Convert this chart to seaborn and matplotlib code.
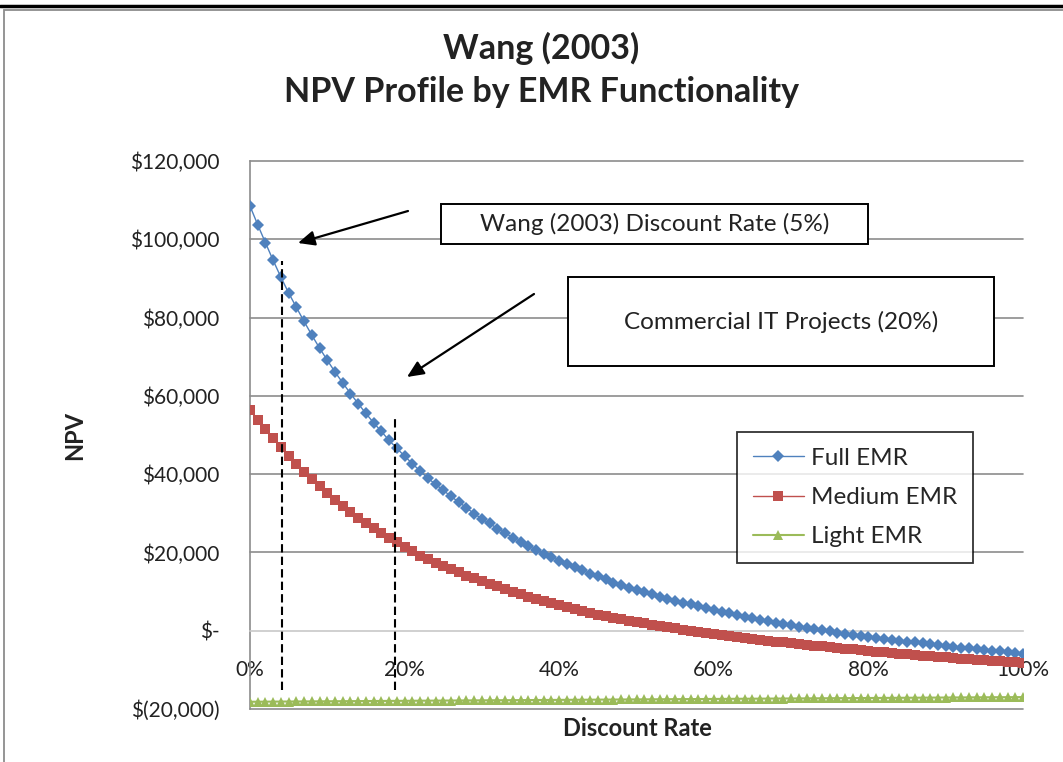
import matplotlib
matplotlib.use("Agg")
import matplotlib.pyplot as plt
import seaborn as sns
import pandas as pd
from matplotlib.patches import Rectangle, FancyArrowPatch
from matplotlib.lines import Line2D

# Discount rate categories (percent)
rates = list(range(0, 101))

full_emr = [108500, 103700, 99100, 94600, 90300, 86300, 82600, 79000, 75500, 72200,
            69100, 66100, 63300, 60600, 58000, 55500, 53100, 50900, 48600, 46600,
            44600, 42700, 40800, 39000, 37400, 35900, 34300, 32900, 31400, 29900,
            28600, 27400, 26100, 25000, 23800, 22700, 21600, 20700, 19700, 18800,
            17900, 17000, 16200, 15400, 14600, 13900, 13100, 12300, 11700, 11000,
            10400, 9830, 9270, 8730, 8200, 7690, 7200, 6720, 6250, 5800,
            5340, 4880, 4450, 4030, 3620, 3220, 2830, 2450, 2080, 1730,
            1390, 1060, 740, 430, 120, -180, -470, -750, -1030, -1300,
            -1560, -1820, -2070, -2310, -2550, -2780, -3010, -3230, -3450, -3670,
            -3880, -4090, -4290, -4490, -4690, -4890, -5080, -5270, -5460, -5650,
            -5830]

medium_emr = [56500, 53900, 51600, 49200, 46900, 44700, 42700, 40600, 38800, 36900,
              35200, 33500, 31900, 30400, 28900, 27500, 26200, 25000, 23800, 22600,
              21400, 20300, 19200, 18200, 17400, 16500, 15700, 14900, 14100, 13400,
              12700, 12000, 11300, 10600, 10000, 9400, 8700, 8100, 7500, 7000,
              6500, 6000, 5500, 5050, 4580, 4130, 3700, 3300, 2930, 2570,
              2220, 1890, 1560, 1240, 920, 610, 300, 0, -300, -600,
              -890, -1170, -1450, -1680, -1905, -2130, -2350, -2570, -2790, -3000,
              -3210, -3420, -3620, -3820, -4020, -4210, -4400, -4590, -4780, -4960,
              -5140, -5320, -5500, -5670, -5840, -6010, -6180, -6340, -6500, -6650,
              -6800, -6950, -7100, -7250, -7400, -7540, -7680, -7820, -7960, -8100,
              -8240]

light_emr = [-18150, -18137, -18124, -18112, -18100, -18088, -18076, -18064, -18052, -18040,
             -18028, -18016, -18004, -17992, -17980, -17968, -17956, -17944, -17932, -17920,
             -17908, -17896, -17884, -17872, -17860, -17848, -17836, -17824, -17812, -17800,
             -17788, -17776, -17764, -17752, -17740, -17728, -17716, -17704, -17692, -17680,
             -17668, -17656, -17644, -17632, -17620, -17608, -17596, -17584, -17572, -17560,
             -17548, -17536, -17524, -17512, -17500, -17488, -17476, -17464, -17452, -17440,
             -17428, -17416, -17404, -17392, -17380, -17368, -17356, -17344, -17332, -17320,
             -17308, -17296, -17284, -17272, -17260, -17248, -17236, -17224, -17212, -17200,
             -17188, -17176, -17164, -17152, -17140, -17128, -17116, -17104, -17092, -17080,
             -17068, -17056, -17044, -17032, -17020, -17010, -17000, -16990, -16980, -16970,
             -16960]

x_ticks = [0, 20, 40, 60, 80, 100]
x_labels = ["0%", "20%", "40%", "60%", "80%", "100%"]
y_ticks = [-20000, 0, 20000, 40000, 60000, 80000, 100000, 120000]
y_labels = ["$(20,000)", "$-", "$20,000", "$40,000", "$60,000", "$80,000", "$100,000", "$120,000"]

df = pd.DataFrame({"rate": rates, "Full EMR": full_emr,
                   "Medium EMR": medium_emr, "Light EMR": light_emr})

sns.set_style("white")
plt.rcParams["font.family"] = ["Lato", "DejaVu Sans"]

W, H = 1063, 762
fig = plt.figure(figsize=(W / 100, H / 100), dpi=100)


def fx(px):
    return px / W


def fy(py):
    return 1 - py / H


ax = fig.add_axes([fx(250), fy(709), fx(1023) - fx(250), fy(161) - fy(709)])

blue, red, green = "#4F81BD", "#C0504D", "#9BBB59"
sns.lineplot(data=df, x="rate", y="Full EMR", ax=ax, color=blue, lw=1,
             marker="D", markersize=6.5, markeredgewidth=0, label="Full EMR", zorder=4)
sns.lineplot(data=df, x="rate", y="Medium EMR", ax=ax, color=red, lw=1,
             marker="s", markersize=7, markeredgewidth=0, label="Medium EMR", zorder=4)
sns.lineplot(data=df, x="rate", y="Light EMR", ax=ax, color=green, lw=1.5,
             marker="^", markersize=7.5, markeredgewidth=0, label="Light EMR", zorder=4)

ax.set_xlim(0, 100)
ax.set_ylim(-20000, 120000)
for v in y_ticks:
    if v != 0:
        ax.axhline(v, color="#8C8C8C", lw=1.2, zorder=1, clip_on=False)

ax.spines["top"].set_visible(False)
ax.spines["right"].set_visible(False)
ax.spines["left"].set_color("#8C8C8C")
ax.spines["left"].set_linewidth(1.2)
ax.spines["bottom"].set_position(("data", 0))
ax.spines["bottom"].set_color("#C8C8C8")
ax.spines["bottom"].set_linewidth(1.2)

ax.set_xticks(x_ticks)
ax.set_xticklabels(x_labels)
ax.set_yticks(y_ticks)
ax.set_yticklabels(y_labels)
ax.tick_params(axis="x", direction="out", length=5, width=1.2, color="#C8C8C8",
               labelsize=15, pad=16, labelcolor="#222222")
ax.tick_params(axis="y", direction="out", length=4, width=1.2, color="#8C8C8C",
               labelsize=15, pad=18, labelcolor="#222222")
ax.set_xlabel("")
ax.set_ylabel("")

# dashed reference lines
ax.vlines(4.2, -15100, 94400, colors="black", linestyles=(0, (4, 2)), lw=1.5, zorder=5)
ax.vlines(18.8, -15100, 54800, colors="black", linestyles=(0, (4, 2)), lw=1.5, zorder=5)

leg = ax.legend(loc="upper left", bbox_to_anchor=(fx(737), fy(432)),
                bbox_transform=fig.transFigure, fontsize=17.5, frameon=True,
                fancybox=False, edgecolor="black", handlelength=2.1,
                labelspacing=0.75, borderpad=0.65, handletextpad=0.3,
                borderaxespad=0)
leg.get_frame().set_linewidth(1.3)

# titles
fig.text(fx(541), fy(48), "Wang (2003)", ha="center", va="center",
         fontsize=24.5, fontweight="bold", color="#222222")
fig.text(fx(541), fy(92), "NPV Profile by EMR Functionality", ha="center",
         va="center", fontsize=24.5, fontweight="bold", color="#222222")
fig.text(fx(75), fy(435), "NPV", rotation=90, ha="center", va="center",
         fontsize=17, fontweight="bold", color="#222222")
fig.text(fx(637), fy(729), "Discount Rate", ha="center", va="center",
         fontsize=17, fontweight="bold", color="#222222")

# annotation boxes
for (x0, y0, x1, y1, txt) in [(441, 204, 868, 244, "Wang (2003) Discount Rate (5%)"),
                              (568, 277, 994, 366, "Commercial IT Projects (20%)")]:
    fig.patches.append(Rectangle((fx(x0), fy(y1)), fx(x1) - fx(x0), fy(y0) - fy(y1),
                                 transform=fig.transFigure, facecolor="white",
                                 edgecolor="black", lw=1.4, zorder=6))
    fig.text(fx((x0 + x1) / 2), fy((y0 + y1) / 2), txt, ha="center", va="center",
             fontsize=17.5, color="#222222", zorder=7)

for (xa, ya, xb, yb) in [(408, 211, 298, 243), (534, 294, 407, 377)]:
    fig.patches.append(FancyArrowPatch((fx(xa), fy(ya)), (fx(xb), fy(yb)),
                                       transform=fig.transFigure,
                                       arrowstyle="-|>,head_length=10,head_width=4.5",
                                       mutation_scale=1, color="black", lw=1.6,
                                       shrinkA=0, shrinkB=0, zorder=6))

# page artifacts: rule at top and chart frame
fig.add_artist(Line2D([0, 1], [fy(6), fy(6)], transform=fig.transFigure,
                      color="black", lw=2.5))
fig.patches.append(Rectangle((fx(4), -0.05), 1.1, fy(10) + 0.05,
                             transform=fig.transFigure, facecolor="none",
                             edgecolor="#8C8C8C", lw=1.3))

fig.savefig("out.png", dpi=100)
